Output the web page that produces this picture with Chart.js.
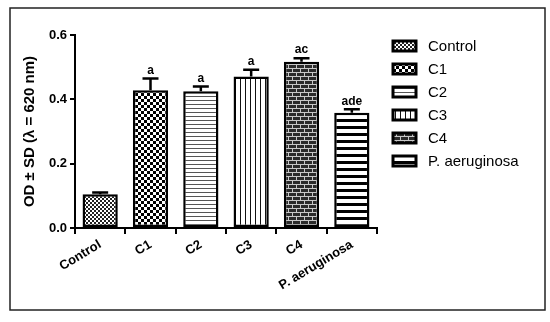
<!DOCTYPE html>
<html>
<head>
<meta charset="utf-8">
<script src="https://cdn.jsdelivr.net/npm/chart.js@4.4.0/dist/chart.umd.min.js"></script>
<style>
    html, body { margin: 0; padding: 0; background: #fff; }
    #wrap { position: relative; width: 550px; height: 322px; }
</style>
</head>
<body>
<div id="wrap"><canvas id="odChart" width="550" height="322"></canvas></div>
<script>
// Data
const groups = ['Control', 'C1', 'C2', 'C3', 'C4', 'P. aeruginosa'];
const odMeans = [0.105, 0.428, 0.425, 0.471, 0.517, 0.358];
const odSD = [0.005, 0.037, 0.015, 0.021, 0.011, 0.011];
const sigLetters = ['', 'a', 'a', 'a', 'ac', 'ade'];
const yTicks = [0.0, 0.2, 0.4, 0.6];

const FONT = 'Arial, "Liberation Sans", sans-serif';

/**
 * Build a small repeating canvas pattern
 */
function makePattern(w, h, draw) {
    const c = document.createElement('canvas');
    c.width = w;
    c.height = h;
    const ctx = c.getContext('2d');
    ctx.fillStyle = '#fff';
    ctx.fillRect(0, 0, w, h);
    draw(ctx);
    return document.getElementById('odChart').getContext('2d').createPattern(c, 'repeat');
}

const patterns = [
    // Control - fine checker
    makePattern(4, 4, ctx => {
        ctx.fillStyle = '#222';
        ctx.fillRect(0, 0, 2, 2);
        ctx.fillRect(2, 2, 2, 2);
    }),
    // C1 - coarse checker
    makePattern(6, 6, ctx => {
        ctx.fillStyle = '#000';
        ctx.fillRect(0, 0, 3, 3);
        ctx.fillRect(3, 3, 3, 3);
    }),
    // C2 - thin horizontal lines
    makePattern(4, 4, ctx => {
        ctx.fillStyle = '#555';
        ctx.fillRect(0, 0, 4, 1);
    }),
    // C3 - vertical lines
    makePattern(5, 5, ctx => {
        ctx.fillStyle = '#111';
        ctx.fillRect(0, 0, 1, 5);
    }),
    // C4 - brick
    makePattern(8, 8, ctx => {
        ctx.fillStyle = '#2a2a2a';
        ctx.fillRect(0, 0, 8, 8);
        ctx.fillStyle = '#c8c8c8';
        ctx.fillRect(0, 0, 8, 1);
        ctx.fillRect(0, 4, 8, 1);
        ctx.fillRect(0, 0, 1, 4);
        ctx.fillRect(4, 4, 1, 4);
    }),
    // P. aeruginosa - thick horizontal bands
    makePattern(7, 7, ctx => {
        ctx.fillStyle = '#000';
        ctx.fillRect(0, 0, 7, 3);
    })
];

// Outer frame, error bars, significance letters and legend
const extrasPlugin = {
    id: 'extras',
    beforeDraw(chart) {
        const ctx = chart.ctx;
        ctx.save();
        ctx.strokeStyle = '#222';
        ctx.lineWidth = 1.5;
        ctx.strokeRect(10, 8, 535, 302);
        ctx.restore();
    },
    afterDatasetsDraw(chart) {
        const ctx = chart.ctx;
        const yScale = chart.scales.y;
        const meta = chart.getDatasetMeta(0);
        ctx.save();
        ctx.strokeStyle = '#000';
        ctx.lineWidth = 2.5;
        meta.data.forEach((bar, i) => {
            const yTop = yScale.getPixelForValue(odMeans[i]);
            const yCap = yScale.getPixelForValue(odMeans[i] + odSD[i]);
            ctx.beginPath();
            ctx.moveTo(bar.x, yTop);
            ctx.lineTo(bar.x, yCap);
            ctx.moveTo(bar.x - 8, yCap);
            ctx.lineTo(bar.x + 8, yCap);
            ctx.stroke();
            if (sigLetters[i]) {
                ctx.fillStyle = '#000';
                ctx.font = 'bold 12px ' + FONT;
                ctx.textAlign = 'center';
                ctx.textBaseline = 'bottom';
                ctx.fillText(sigLetters[i], bar.x, yCap - 2);
            }
        });

        // legend on the right
        const boxX = 393, firstY = 46, step = 23;
        groups.forEach((g, i) => {
            const cy = firstY + i * step;
            ctx.fillStyle = patterns[i];
            ctx.fillRect(boxX, cy - 5, 23, 10);
            ctx.lineWidth = 3;
            ctx.strokeStyle = '#000';
            ctx.strokeRect(boxX, cy - 5, 23, 10);
            ctx.fillStyle = '#000';
            ctx.font = '15px ' + FONT;
            ctx.textAlign = 'left';
            ctx.textBaseline = 'middle';
            ctx.fillText(g, 428, cy + 1);
        });
        ctx.restore();
    }
};

const axisFont = { family: FONT, weight: 'bold' };

new Chart(document.getElementById('odChart'), {
    type: 'bar',
    data: {
        labels: groups,
        datasets: [{
            data: odMeans,
            backgroundColor: patterns,
            borderColor: '#000',
            borderWidth: 2.5,
            borderSkipped: false,
            barPercentage: 0.7,
            categoryPercentage: 1.0
        }]
    },
    options: {
        responsive: false,
        animation: false,
        layout: {
            padding: { left: 10, top: 35, right: 173, bottom: 14 }
        },
        plugins: {
            tooltip: { enabled: false },
            legend: { display: false }
        },
        scales: {
            x: {
                afterFit: axis => { axis.height = 80; },
                grid: {
                    display: true,
                    drawOnChartArea: false,
                    tickLength: 6,
                    color: '#000',
                    lineWidth: 2
                },
                border: { color: '#000', width: 2 },
                ticks: {
                    color: '#000',
                    font: { ...axisFont, size: 13 },
                    minRotation: 31,
                    maxRotation: 31
                }
            },
            y: {
                min: 0,
                max: 0.6,
                afterFit: axis => { axis.width = 65; },
                afterBuildTicks: axis => {
                    axis.ticks = yTicks.map(v => ({ value: v }));
                },
                grid: {
                    display: true,
                    drawOnChartArea: false,
                    tickLength: 5,
                    color: '#000',
                    lineWidth: 2
                },
                border: { color: '#000', width: 2 },
                ticks: {
                    color: '#000',
                    padding: 3,
                    font: { ...axisFont, size: 13 },
                    callback: v => Number(v).toFixed(1)
                },
                title: {
                    display: true,
                    text: 'OD ± SD (λ = 620 nm)',
                    color: '#000',
                    font: { ...axisFont, size: 15 },
                    padding: { top: 11, bottom: 0 }
                }
            }
        }
    },
    plugins: [extrasPlugin]
});
</script>
</body>
</html>
